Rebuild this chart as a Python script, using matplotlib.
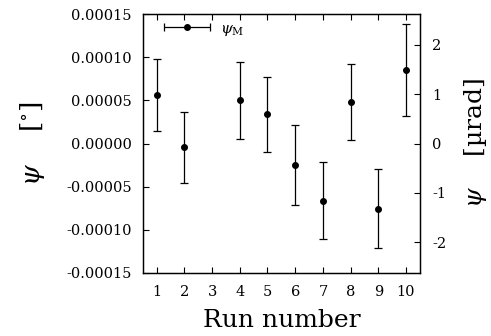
import matplotlib
matplotlib.use("Agg")
import matplotlib.pyplot as plt
from matplotlib.legend_handler import HandlerErrorbar
import numpy as np

plt.rcParams['font.family'] = 'DejaVu Serif'
plt.rcParams['mathtext.fontset'] = 'dejavuserif'
plt.rcParams['axes.unicode_minus'] = False

# Data
runs = [1, 2, 4, 5, 6, 7, 8, 9, 10]
psi = [5.65e-5, -0.45e-5, 5.0e-5, 3.4e-5, -2.5e-5, -6.6e-5, 4.85e-5, -7.55e-5, 8.55e-5]
psi_err = [4.15e-5, 4.1e-5, 4.5e-5, 4.35e-5, 4.6e-5, 4.5e-5, 4.4e-5, 4.55e-5, 5.3e-5]

ylim = (-0.00015, 0.00015)
yticks = [-0.00015, -0.0001, -0.00005, 0.0, 0.00005, 0.0001, 0.00015]
deg_to_urad = np.pi / 180 * 1e6

fig = plt.figure(figsize=(4.91, 3.36), dpi=100)
ax = fig.add_axes([0.291, 0.1875, 0.564, 0.7705])

ax.errorbar(runs, psi, yerr=psi_err, fmt='o', color='black', ms=4,
            elinewidth=0.9, capsize=3, capthick=0.9)

# legend proxy with horizontal error bar
proxy = ax.errorbar([np.nan], [np.nan], xerr=[1], fmt='o', color='black', ms=4,
                    elinewidth=0.9, capsize=3, capthick=0.9, label=r'$\psi_{\mathrm{M}}$')

ax.set_xlim(0.5, 10.5)
ax.set_ylim(*ylim)
ax.set_xticks(range(1, 11))
ax.set_yticks(yticks)
ax.set_yticklabels(['%.5f' % v for v in yticks])
ax.tick_params(direction='in', top=True, labelsize=10.5, length=4)
ax.tick_params(axis='y', pad=8)
ax.tick_params(axis='x', pad=9)

ax.set_xlabel('Run number', fontsize=18, labelpad=7)
ax.set_ylabel(r'$\psi$    [$^{\circ}$]', fontsize=19, labelpad=14)

ax2 = ax.twinx()
ax2.set_ylim(ylim[0] * deg_to_urad, ylim[1] * deg_to_urad)
ax2.set_yticks([-2, -1, 0, 1, 2])
ax2.tick_params(direction='in', labelsize=10.5, length=4, pad=9)
ax2.set_ylabel(r'$\psi$    [µrad]', fontsize=18, labelpad=11)

for a in (ax, ax2):
    for s in a.spines.values():
        s.set_linewidth(0.9)

ax.legend(handles=[proxy], loc='upper left', frameon=False, fontsize=11,
          handlelength=3.3, handletextpad=0.5, borderaxespad=0.1,
          bbox_to_anchor=(0.04, 1.0),
          handler_map={type(proxy): HandlerErrorbar(xerr_size=1.5)})

fig.savefig('out.png', dpi=100)
